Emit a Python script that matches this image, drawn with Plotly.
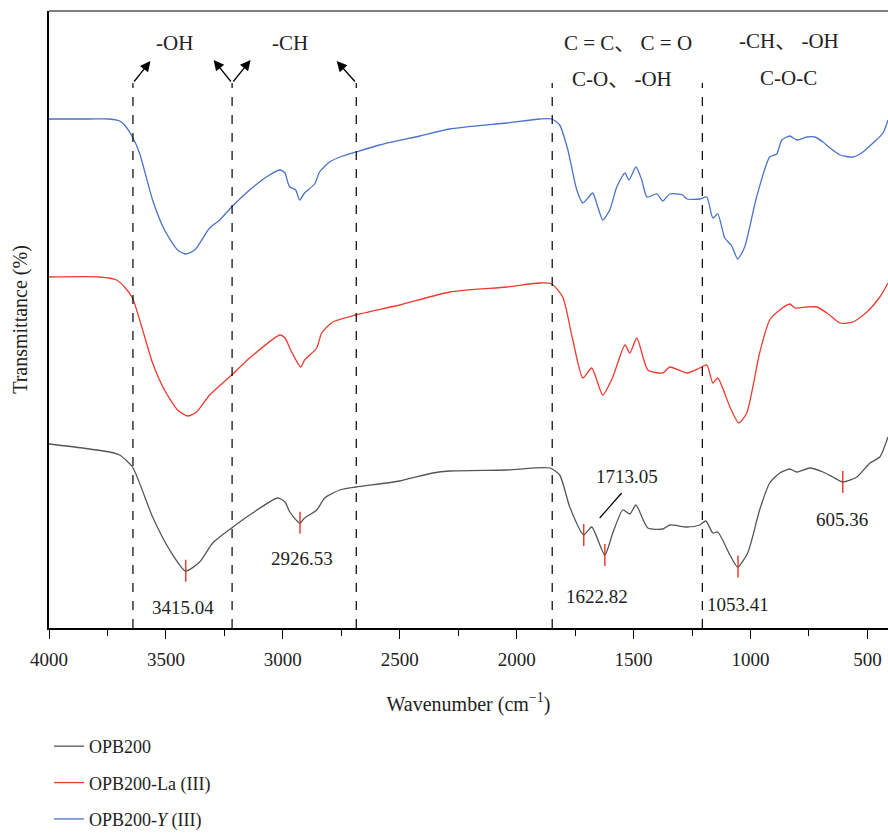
import numpy as np
import plotly.graph_objects as go

# ---- data (wavenumber cm^-1, relative transmittance, arbitrary units) ----
wn_gray = [4000, 3857, 3741, 3698, 3643, 3557, 3484, 3416, 3356, 3300, 3219, 3142, 3022, 2991, 2970,
           2928, 2907, 2855, 2821, 2757, 2688, 2500, 2359, 2286, 2042, 1858, 1816, 1773, 1713, 1679,
           1623, 1589, 1546, 1516, 1490, 1439, 1375, 1345, 1272, 1217, 1191, 1161, 1140, 1088, 1055,
           1012, 961, 918, 875, 832, 802, 746, 690, 648, 605, 545, 489, 447, 412]
t_gray = [196, 192, 188, 185, 173, 123, 90, 69, 78, 97, 112, 125, 142, 138, 128,
          117, 122, 130, 142, 150, 153, 159, 167, 169, 170, 172, 165, 133, 105, 113,
          85, 107, 130, 126, 135, 112, 111, 115, 113, 115, 119, 107, 108, 85, 73,
          87, 130, 157, 167, 171, 168, 172, 168, 163, 158, 163, 177, 183, 203]

wn_la = [4000, 3784, 3711, 3677, 3643, 3557, 3506, 3450, 3407, 3369, 3313, 3219, 3142, 3012, 2991,
         2962, 2924, 2907, 2855, 2834, 2787, 2688, 2500, 2286, 2042, 1901, 1850, 1803, 1760, 1717,
         1679, 1632, 1589, 1537, 1516, 1486, 1439, 1375, 1345, 1272, 1217, 1187, 1161, 1140, 1088,
         1050, 1016, 961, 918, 875, 832, 810, 759, 716, 673, 617, 562, 502, 447, 412]
t_la = [363, 363, 360, 353, 342, 277, 250, 230, 224, 228, 245, 265, 282, 305, 302,
        288, 273, 280, 292, 307, 318, 325, 335, 348, 353, 357, 356, 343, 300, 262,
        272, 245, 263, 295, 287, 302, 270, 267, 273, 267, 272, 275, 257, 262, 233,
        217, 227, 287, 320, 330, 336, 332, 333, 333, 327, 317, 318, 328, 343, 357]

wn_y = [4000, 3827, 3741, 3698, 3677, 3643, 3613, 3557, 3506, 3450, 3416, 3377, 3313, 3270, 3219,
        3142, 3057, 3012, 2991, 2978, 2970, 2945, 2928, 2907, 2864, 2843, 2800, 2744, 2688, 2586,
        2414, 2286, 2042, 1901, 1850, 1816, 1781, 1743, 1717, 1675, 1653, 1632, 1602, 1572, 1537,
        1520, 1490, 1465, 1443, 1400, 1375, 1345, 1290, 1272, 1217, 1187, 1161, 1140, 1110, 1080,
        1055, 1025, 974, 918, 888, 866, 832, 802, 759, 725, 690, 660, 617, 562, 519,
        476, 433, 412]
t_y = [521, 521, 521, 519, 515, 503, 487, 440, 410, 390, 386, 390, 412, 420, 433,
       450, 465, 470, 467, 457, 453, 450, 440, 447, 456, 468, 478, 484, 488, 495,
       504, 511, 517, 521, 521, 515, 490, 450, 437, 447, 433, 420, 430, 453, 467,
       460, 473, 460, 443, 446, 439, 446, 445, 441, 441, 443, 422, 426, 402, 394,
       381, 393, 443, 483, 486, 500, 504, 500, 503, 503, 498, 492, 485, 483, 488,
       497, 507, 520]

peaks = [3415.04, 2926.53, 1713.05, 1622.82, 1053.41, 605.36]
peak_labels = ["3415.04", "2926.53", "1713.05", "1622.82", "1053.41", "605.36"]
# label anchor positions (wavenumber, transmittance)
label_pos = [(3428, 33), (2920, 82), (1529, 164), (1657, 44), (1054, 36), (610, 121)]

region_lines = [3641, 3217, 2686, 1848, 1206]

series_names = ["OPB200", "OPB200-La (III)", "OPB200-<i>Y</i> (III)"]
colors = ["#555555", "#ee3a2f", "#4a72c8"]

FONT = "Liberation Serif, Noto Sans CJK SC, serif"

fig = go.Figure()
for wn, t, name, c in [(wn_gray, t_gray, series_names[0], colors[0]),
                       (wn_la, t_la, series_names[1], colors[1]),
                       (wn_y, t_y, series_names[2], colors[2])]:
    fig.add_trace(go.Scatter(x=wn, y=t, mode="lines", name=name,
                             line=dict(color=c, width=1.3, shape="spline", smoothing=0.6),
                             legendgroup=name))

shapes = []
TOP = 557
for w in region_lines:
    shapes.append(dict(type="line", xref="x", yref="y", x0=w, x1=w, y0=12, y1=TOP,
                       line=dict(color="black", width=1.2, dash="dash")))

# peak ticks on the OPB200 curve
xs = np.array(wn_gray[::-1], dtype=float)
ys = np.array(t_gray[::-1], dtype=float)
for p in peaks:
    yc = float(np.interp(p, xs, ys))
    shapes.append(dict(type="line", xref="x", yref="y", x0=p, x1=p, y0=yc - 11, y1=yc + 11,
                       line=dict(color="#e8201a", width=1.3)))

# leader line for 1713.05
shapes.append(dict(type="line", xref="x", yref="y", x0=1645, x1=1551, y0=122, y1=147,
                   line=dict(color="black", width=1.2)))
# top frame line
shapes.append(dict(type="line", xref="paper", yref="paper", x0=0, x1=1, y0=1, y1=1,
                   line=dict(color="#555555", width=1.5)))

annotations = []
for (lx, ly), txt in zip(label_pos, peak_labels):
    annotations.append(dict(x=lx, y=ly, text=txt, showarrow=False,
                            font=dict(family=FONT, size=19, color="#222222")))

for hx, hy, tx in [(3566, 579, 3641), (3296, 580, 3217), (3138, 580, 3217), (2770, 579, 2686)]:
    annotations.append(dict(x=hx, y=hy, ax=tx, ay=TOP, xref="x", yref="y", axref="x", ayref="y",
                            showarrow=True, arrowhead=2, arrowsize=1.6, arrowwidth=1.3,
                            arrowcolor="black", text=""))

group_labels = [("-OH", 3463, 597), ("-CH", 2971, 597), ("C = C、 C = O", 1525, 597),
                ("C-O、 -OH", 1550, 561), ("-CH、 -OH", 836, 599), ("C-O-C", 836, 562)]
for txt, gx, gy in group_labels:
    annotations.append(dict(x=gx, y=gy, text=txt, showarrow=False,
                            font=dict(family=FONT, size=21, color="#222222")))

fig.update_layout(
    width=888, height=834,
    margin=dict(l=49, r=0, t=11, b=206, autoexpand=False),
    paper_bgcolor="white", plot_bgcolor="white",
    font=dict(family=FONT, size=18, color="#222222"),
    shapes=shapes, annotations=annotations,
    showlegend=True,
    legend=dict(x=0, xanchor="left", y=-0.162, yanchor="top", traceorder="grouped",
                tracegroupgap=10, font=dict(family=FONT, size=18, color="#222222"),
                bgcolor="rgba(0,0,0,0)"),
    xaxis=dict(range=[4000, 412], showgrid=False, zeroline=False, showline=True,
               linecolor="black", linewidth=1.5, ticks="outside", ticklen=9, tickwidth=1.2,
               tickcolor="black", tickvals=[4000, 3500, 3000, 2500, 2000, 1500, 1000, 500],
               minor=dict(tickvals=[3750, 3250, 2750, 2250, 1750, 1250, 750], ticks="outside",
                          ticklen=6, tickcolor="black", tickwidth=1.2),
               tickfont=dict(family=FONT, size=19), ticklabelstandoff=4,
               title=dict(text="Wavenumber (cm<sup>−1</sup>)", font=dict(family=FONT, size=20),
                          standoff=28)),
    yaxis=dict(range=[12, 629], showgrid=False, zeroline=False, showline=True,
               linecolor="black", linewidth=1.5, showticklabels=False, ticks="",
               title=dict(text="Transmittance (%)", font=dict(family=FONT, size=20), standoff=14)),
)

fig.write_html("out.html")
